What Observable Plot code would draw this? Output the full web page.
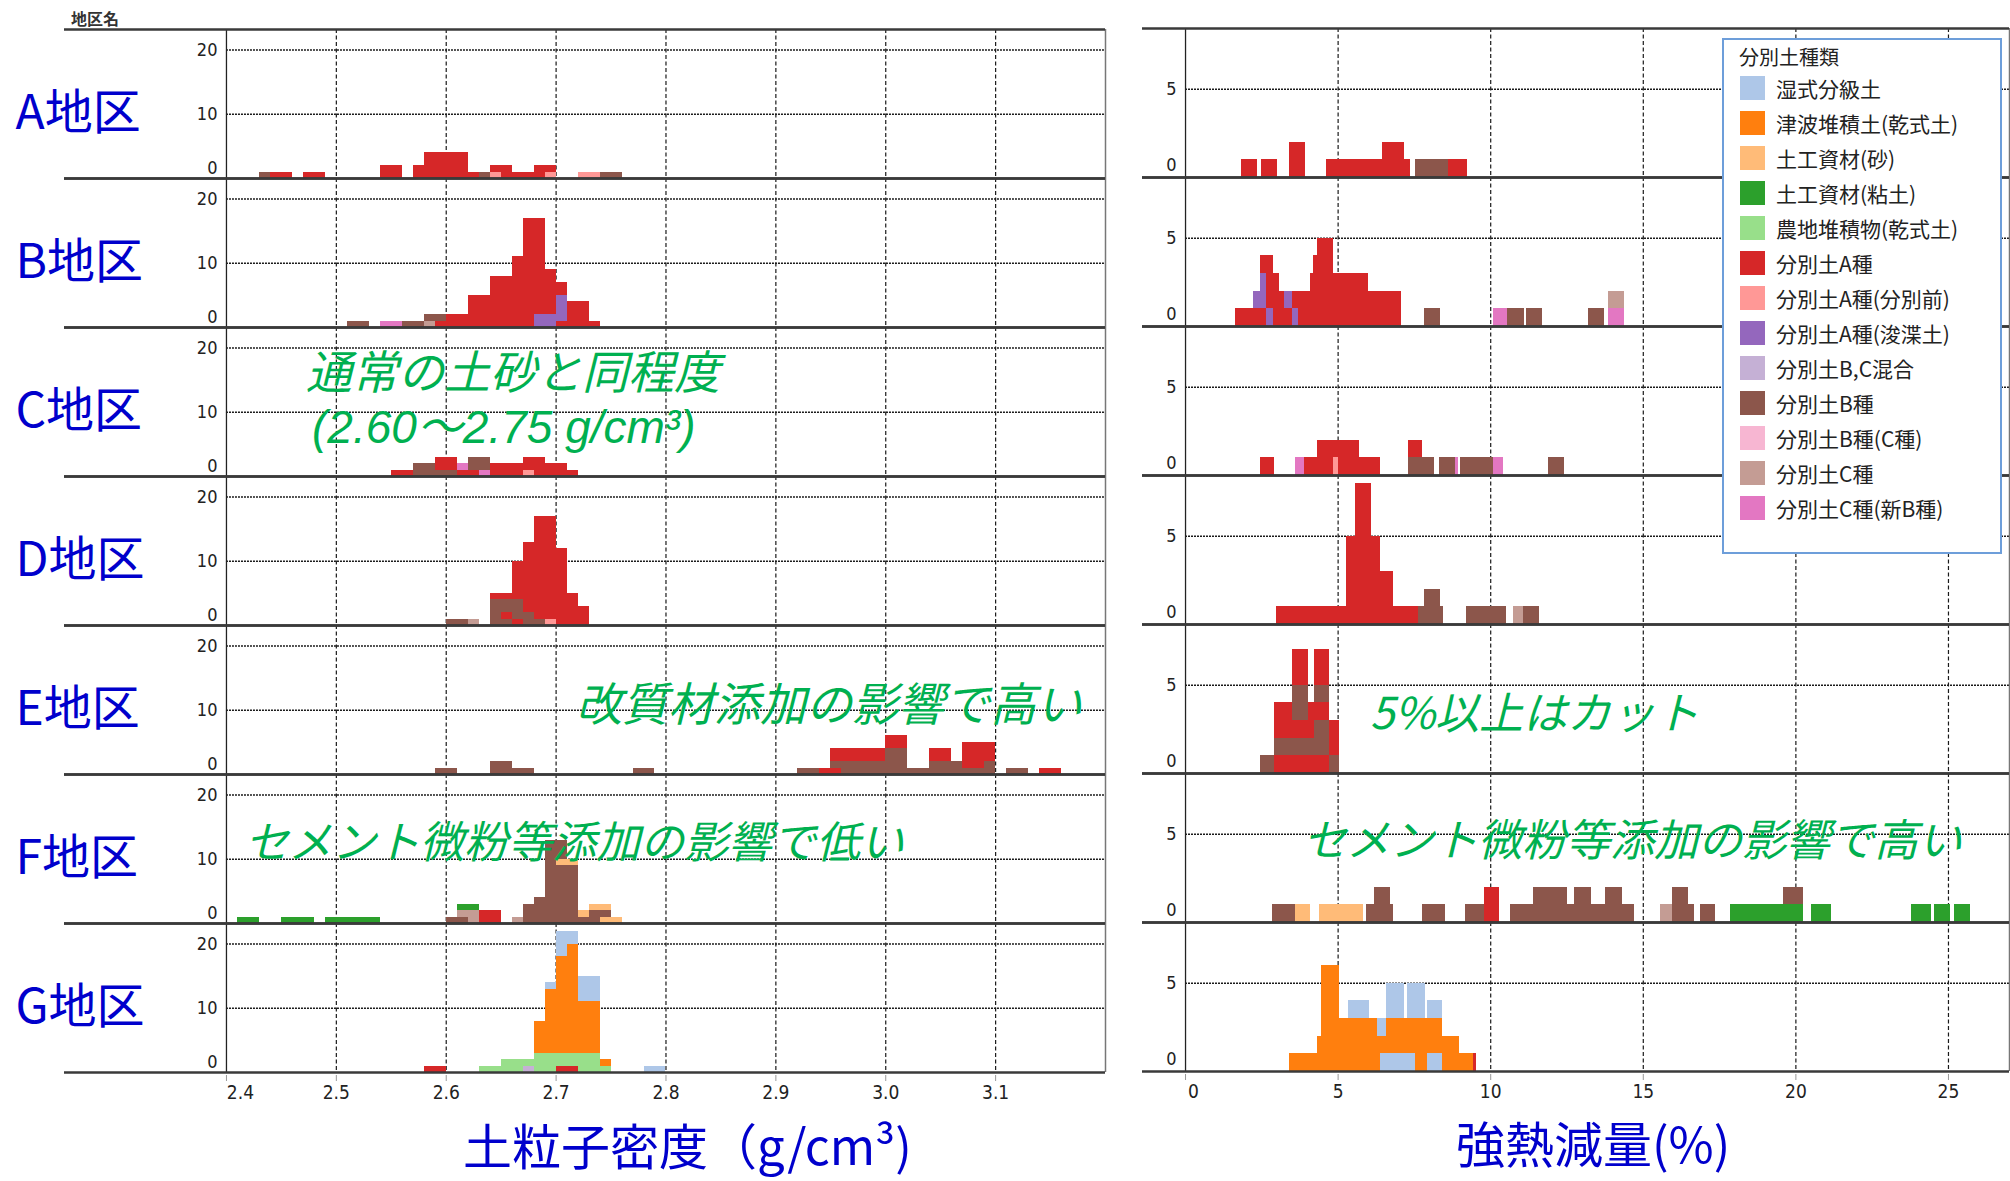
<!DOCTYPE html>
<html><head><meta charset="utf-8">
<script src="https://cdn.jsdelivr.net/npm/d3@7"></script>
<script src="https://cdn.jsdelivr.net/npm/@observablehq/plot@0.6"></script>
<style>
body{margin:0;background:#fff;width:2010px;height:1181px;position:relative;overflow:hidden;font-family:"Noto Sans CJK JP",sans-serif;}
.abs{position:absolute;}
.note{position:absolute;color:#00b050;font-style:italic;white-space:nowrap;line-height:1;font-family:"Noto Sans CJK JP",sans-serif;}
.atitle{position:absolute;color:#0000cc;white-space:nowrap;line-height:1;font-size:49px;font-family:"Noto Sans CJK JP",sans-serif;}
#legend{position:absolute;left:1722px;top:38px;width:280px;height:516px;border:2px solid #6d9eda;background:#fff;box-sizing:border-box;}
#legend .ttl{position:absolute;left:15px;top:6px;font-size:20px;line-height:22px;color:#222;white-space:nowrap;}
#legend .sw{position:absolute;left:16px;width:25px;height:24px;}
#legend .lb{position:absolute;left:52px;font-size:21px;line-height:24px;color:#222;white-space:nowrap;}
</style></head>
<body>
<div class="abs" style="left:71px;top:6px;font-size:16px;font-weight:bold;color:#333;">地区名</div>
<div id="left" class="abs" style="left:0;top:0"></div>
<div id="right" class="abs" style="left:1110px;top:0"></div>
<div id="legend"></div>
<div class="note" style="left:306px;top:346px;font-size:46px;">通常の土砂と同程度</div>
<div class="note" style="left:312px;top:404px;font-size:46px;font-family:'Liberation Sans','Noto Sans CJK JP',sans-serif;">(2.60～2.75 g/cm³)</div>
<div class="note" style="left:576px;top:678px;font-size:46px;">改質材添加の影響で高い</div>
<div class="note" style="left:245px;top:817px;font-size:44px;">セメント微粉等添加の影響で低い</div>
<div class="note" style="left:1370px;top:688px;font-size:44px;">5%以上はカット</div>
<div class="note" style="left:1303px;top:815px;font-size:44px;">セメント微粉等添加の影響で高い</div>
<div class="atitle" style="left:463px;top:1119px;">土粒子密度（g/cm³)</div>
<div class="atitle" style="left:1456px;top:1117px;">強熱減量(%)</div>
<script>
// ---------- categories ----------
const districts = ["A","B","C","D","E","F","G"];
const categoryNames = ["湿式分級土","津波堆積土(乾式土)","土工資材(砂)","土工資材(粘土)","農地堆積物(乾式土)","分別土A種","分別土A種(分別前)","分別土A種(浚渫土)","分別土B,C混合","分別土B種","分別土B種(C種)","分別土C種","分別土C種(新B種)"];
const categoryCodes = ["WET","TSU","SAND","CLAY","AGR","A","Apre","Adr","BC","B","BCc","C","CnB"];
const categoryColors = ["#aec7e8","#ff7f0e","#ffbb78","#2ca02c","#98df8a","#d62728","#ff9896","#9467bd","#c5b0d5","#8c564b","#f7b6d2","#c49c94","#e377c2"];

// ---------- 土粒子密度 histogram: [bin start ×0.01 g/cm3, category, count] (stacked bottom→top) ----------
const densA = [[243,"B",1],[244,"A",1],[245,"A",1],[247,"A",1],[248,"A",1],[254,"A",2],[255,"A",2],[257,"A",2],
  [258,"A",4],[259,"A",4],[260,"A",4],[261,"A",4],[262,"A",1],[263,"B",1],[264,"Apre",1],[264,"A",1],[265,"A",2],
  [266,"A",1],[267,"A",1],[268,"A",2],[269,"Apre",1],[269,"A",1],[272,"Apre",1],[273,"Apre",1],[274,"B",1],[275,"B",1]];
const densB = [[251,"B",1],[252,"B",1],[254,"CnB",1],[255,"CnB",1],[256,"B",1],[257,"B",1],[258,"C",1],[258,"B",1],
  [259,"A",1],[259,"B",1],[260,"A",2],[261,"A",2],[262,"A",5],[263,"A",5],[264,"A",8],[265,"A",8],[266,"A",11],
  [267,"A",17],[268,"Adr",2],[268,"A",15],[269,"Adr",2],[269,"A",7],[270,"A",1],[270,"Adr",4],[270,"A",2],
  [271,"A",4],[272,"A",4],[273,"A",1]];
const densC = [[255,"A",1],[256,"A",1],[257,"B",2],[258,"B",2],[259,"B",1],[259,"A",2],[260,"B",1],[260,"A",2],
  [261,"A",1],[261,"CnB",1],[262,"A",1],[262,"B",2],[263,"CnB",1],[263,"B",2],[264,"A",2],[265,"A",2],[266,"A",2],
  [267,"Apre",1],[267,"A",2],[268,"A",3],[269,"A",2],[270,"A",2],[271,"A",1]];
const densD = [[260,"B",1],[261,"B",1],[262,"C",1],[264,"B",4],[264,"A",1],[265,"B",1],[265,"A",1],[265,"B",2],[265,"A",1],
  [266,"A",1],[266,"B",3],[266,"A",6],[267,"B",2],[267,"A",11],[268,"B",1],[268,"A",16],[269,"Apre",1],[269,"A",16],
  [270,"A",12],[271,"A",5],[272,"A",3]];
const densE = [[259,"B",1],[260,"B",1],[264,"B",2],[265,"B",2],[266,"B",1],[267,"B",1],[277,"B",1],[278,"B",1],
  [292,"B",1],[293,"B",1],[294,"A",1],[295,"A",1],[295,"B",1],[295,"A",2],[296,"B",2],[296,"A",2],[297,"B",2],[297,"A",2],
  [298,"B",2],[298,"A",2],[299,"B",2],[299,"A",2],[300,"B",4],[300,"A",2],[301,"B",4],[301,"A",2],[302,"B",1],[303,"B",1],
  [304,"B",2],[304,"A",2],[305,"B",2],[305,"A",2],[306,"B",2],[307,"B",1],[307,"A",4],[308,"B",1],[308,"A",4],
  [309,"B",2],[309,"A",3],[311,"B",1],[312,"B",1],[314,"A",1],[315,"A",1]];
const densF = [[241,"CLAY",1],[242,"CLAY",1],[245,"CLAY",1],[246,"CLAY",1],[247,"CLAY",1],[249,"CLAY",1],[250,"CLAY",1],
  [251,"CLAY",1],[252,"CLAY",1],[253,"CLAY",1],[260,"B",1],[261,"B",1],[261,"C",1],[261,"CLAY",1],[262,"C",2],[262,"CLAY",1],
  [263,"A",2],[264,"A",2],[266,"C",1],[267,"B",3],[268,"B",4],[269,"B",13],[270,"B",9],[270,"SAND",1],[270,"B",3],
  [271,"B",9],[271,"SAND",1],[272,"B",1],[272,"SAND",1],[273,"B",2],[273,"SAND",1],[274,"SAND",1],[274,"B",1],[274,"SAND",1],
  [275,"SAND",1]];
const densG = [[258,"A",1],[259,"A",1],[263,"AGR",1],[264,"AGR",1],[265,"AGR",2],[266,"AGR",2],[267,"BC",1],[267,"AGR",1],
  [268,"AGR",3],[268,"TSU",5],[269,"AGR",3],[269,"TSU",10],[269,"WET",1],[270,"A",1],[270,"AGR",2],[270,"TSU",15],[270,"WET",4],
  [271,"A",1],[271,"AGR",2],[271,"TSU",17],[271,"WET",2],[272,"AGR",3],[272,"TSU",8],[272,"WET",4],
  [273,"AGR",3],[273,"TSU",8],[273,"WET",4],[274,"AGR",1],[274,"TSU",1],[278,"WET",1],[279,"WET",1]];
const densTicks = [2.4,2.5,2.6,2.7,2.8,2.9,3.0,3.1];
const densGridY = [10,20];

// ---------- 強熱減量 histogram: [from %, to %, category, count] (stacked bottom→top) ----------
const loiA = [[1.85,2.37,"A",1],[2.50,3.02,"A",1],[3.42,3.94,"A",2],[4.61,6.46,"A",1],[6.46,7.19,"A",2],[7.19,7.37,"A",1],
  [7.54,8.63,"B",1],[8.63,9.24,"A",1]];
const loiB = [[1.65,2.24,"A",1],[2.24,2.45,"A",1],[2.24,2.45,"Adr",1],[2.45,2.64,"A",1],[2.45,2.64,"Adr",2],[2.45,2.64,"A",1],
  [2.64,2.88,"Adr",1],[2.64,2.88,"A",3],[2.88,3.08,"A",3],[3.08,3.24,"A",2],[3.24,3.5,"A",1],[3.24,3.5,"Adr",1],
  [3.5,3.7,"Adr",1],[3.5,3.7,"A",1],[3.7,4.1,"A",2],[4.1,4.2,"A",3],[4.2,4.32,"A",4],[4.32,4.84,"A",5],[4.84,6.0,"A",3],
  [6.0,7.08,"A",2],[7.84,8.36,"B",1],[10.09,10.56,"CnB",1],[10.56,11.1,"B",1],[11.17,11.69,"B",1],[13.22,13.74,"B",1],
  [13.85,14.37,"CnB",1],[13.85,14.37,"C",1]];
const loiC = [[2.45,2.93,"A",1],[3.61,3.91,"CnB",1],[3.91,4.32,"A",1],[4.32,4.86,"A",2],[4.86,5.02,"Apre",1],[4.86,5.02,"A",1],
  [5.02,5.71,"A",2],[5.71,6.40,"A",1],[7.29,7.78,"B",1],[7.29,7.78,"A",1],[7.78,8.16,"B",1],[8.32,8.86,"B",1],[8.86,8.93,"CnB",1],
  [9.0,10.1,"B",1],[10.1,10.41,"CnB",1],[11.89,12.43,"B",1]];
const loiD = [[2.99,5.27,"A",1],[5.27,5.56,"A",5],[5.56,6.10,"A",8],[6.10,6.40,"A",5],[6.40,6.80,"A",3],[6.80,7.64,"A",1],
  [7.64,7.84,"B",1],[7.84,8.36,"B",2],[8.36,8.46,"B",1],[9.21,10.52,"B",1],[10.76,11.06,"C",1],[11.06,11.59,"B",1]];
const loiE = [[2.45,2.93,"B",1],[2.93,3.52,"A",1],[2.93,3.52,"B",1],[2.93,3.52,"A",2],
  [3.52,4.03,"A",1],[3.52,4.03,"B",1],[3.52,4.03,"A",1],[3.52,4.03,"B",2],[3.52,4.03,"A",2],
  [4.03,4.24,"A",1],[4.03,4.24,"B",1],[4.03,4.24,"A",2],
  [4.24,4.71,"A",1],[4.24,4.71,"B",2],[4.24,4.71,"A",1],[4.24,4.71,"B",1],[4.24,4.71,"A",2],
  [4.71,5.05,"B",1],[4.71,5.05,"A",2]];
const loiF = [[2.85,3.60,"B",1],[3.60,4.11,"SAND",1],[4.39,5.83,"SAND",1],[5.94,6.18,"B",1],[6.18,6.71,"B",2],[6.71,6.82,"B",1],
  [7.77,8.51,"B",1],[9.18,9.81,"B",1],[9.81,10.29,"A",2],[10.64,11.41,"B",1],[11.41,12.52,"B",2],[12.52,12.76,"B",1],
  [12.76,13.29,"B",2],[13.29,13.77,"B",1],[13.77,14.32,"B",2],[14.32,14.72,"B",1],[15.58,15.95,"C",1],[15.95,16.47,"B",2],
  [16.47,16.67,"B",1],[16.86,17.38,"B",1],[17.86,19.02,"CLAY",1],[19.02,19.61,"CLAY",1],[19.61,20.25,"CLAY",1],[19.61,20.25,"B",1],
  [20.52,21.16,"CLAY",1],[23.8,24.44,"CLAY",1],[24.55,25.08,"CLAY",1],[25.19,25.72,"CLAY",1]];
const loiG = [[3.41,4.31,"TSU",1],[4.31,4.47,"TSU",2],[4.47,5.03,"TSU",6],[5.03,5.33,"TSU",3],[5.33,6.02,"TSU",3],[5.33,6.02,"WET",1],
  [6.02,6.28,"TSU",3],[6.28,6.40,"TSU",2],[6.28,6.40,"WET",1],[6.40,6.58,"WET",1],[6.40,6.58,"TSU",1],[6.40,6.58,"WET",1],
  [6.58,6.96,"WET",1],[6.58,6.96,"TSU",2],[6.58,6.96,"WET",2],[6.96,7.19,"WET",1],[6.96,7.19,"TSU",2],[6.96,7.19,"WET",2],
  [7.19,7.28,"WET",1],[7.19,7.28,"TSU",2],[7.28,7.53,"WET",1],[7.28,7.53,"TSU",2],[7.28,7.53,"WET",2],
  [7.53,7.85,"TSU",3],[7.53,7.85,"WET",2],[7.85,7.94,"TSU",3],[7.94,8.42,"WET",1],[7.94,8.42,"TSU",2],[7.94,8.42,"WET",1],
  [8.42,8.98,"TSU",2],[8.98,9.45,"TSU",1],[9.45,9.55,"A",1]];
const loiTicks = [0,5,10,15,20,25];
const loiGridY = [5];

// ---------- build tables ----------
const densByDistrict = {A: densA, B: densB, C: densC, D: densD, E: densE, F: densF, G: densG};
const loiByDistrict = {A: loiA, B: loiB, C: loiC, D: loiD, E: loiE, F: loiF, G: loiG};
const densRows = districts.flatMap(d => densByDistrict[d].map(([b, cat, n]) => ({district: d, b, cat, n})));
const loiRows = districts.flatMap(d => loiByDistrict[d].map(([x1, x2, cat, n]) => ({district: d, x1, x2, cat, n})));
const lastDistrict = districts[districts.length - 1];

const tickFont = "'Liberation Sans Narrow','DejaVu Sans Condensed','Liberation Sans',sans-serif";
const gridStroke = "#1a1a1a";

// x ticks and tick labels under the last row (the first label sits right of its tick, as in the original)
function xAxisMarks(ticks, fmt, firstDx) {
  const rows = ticks.map((t, i) => ({t, district: lastDistrict, first: i === 0}));
  return [
    Plot.ruleX(rows, {x: "t", y1: 0, y2: 0, fy: "district", insetTop: 3, insetBottom: -9, stroke: "#999"}),
    Plot.text(rows.filter(d => d.first), {x: "t", y: 0, fy: "district", text: d => fmt(d.t), dx: firstDx, dy: 13, lineAnchor: "top", fontSize: 19}),
    Plot.text(rows.filter(d => !d.first), {x: "t", y: 0, fy: "district", text: d => fmt(d.t), dy: 13, lineAnchor: "top", fontSize: 19})
  ];
}

const DENS_X = [2.2526, 3.2], DENS_Y = [0, 23.2];
const leftPlot = Plot.plot({
  width: 1110, height: 1114,
  marginTop: 27, marginBottom: 40, marginLeft: 64, marginRight: 5,
  style: {fontFamily: tickFont, fontSize: "19px", color: "#222", background: "transparent", overflow: "visible"},
  x: {type: "linear", domain: DENS_X, axis: null},
  y: {type: "linear", domain: DENS_Y, axis: null},
  fy: {domain: districts, padding: 0, axis: null},
  color: {domain: categoryCodes, range: categoryColors},
  marks: [
    Plot.ruleX(densTicks.slice(1), {stroke: gridStroke, strokeDasharray: "4,2.5", strokeWidth: 1.2}),
    Plot.ruleY(densGridY, {x1: densTicks[0], x2: DENS_X[1], stroke: gridStroke, strokeDasharray: "2,1", strokeWidth: 1.5}),
    Plot.rectY(densRows, {x1: d => d.b / 100, x2: d => (d.b + 1) / 100, y: "n", fill: "cat", fy: "district", shapeRendering: "crispEdges"}),
    Plot.ruleX([densTicks[0]], {stroke: "#222", strokeWidth: 1.3}),
    Plot.ruleX([DENS_X[1]], {stroke: "#777", strokeWidth: 1.5}),
    Plot.ruleY([DENS_Y[1]], {stroke: "#3a3a3a", strokeWidth: 2.5}),
    Plot.ruleY([0], {stroke: "#3a3a3a", strokeWidth: 2.5}),
    Plot.text(densGridY, {x: densTicks[0], y: d => d, dx: -9, textAnchor: "end", fontSize: 18}),
    Plot.text([0], {x: densTicks[0], y: d => d, dx: -9, dy: -10, textAnchor: "end", fontSize: 18}),
    ...xAxisMarks(densTicks, d3.format(".1f"), 14),
    Plot.text(districts, {fy: d => d, text: d => d + "地区", frameAnchor: "left", dx: -49, dy: 10, textAnchor: "start",
      fontSize: 48, fill: "#0000cc", fontFamily: "Noto Sans CJK JP"})
  ]
});
document.getElementById("left").appendChild(leftPlot);

const LOI_X = [-1.41, 27], LOI_Y = [0, 8.44];
const rightPlot = Plot.plot({
  width: 900, height: 1114,
  marginTop: 27, marginBottom: 43, marginLeft: 32, marginRight: 1,
  style: {fontFamily: tickFont, fontSize: "19px", color: "#222", background: "transparent", overflow: "visible"},
  x: {type: "linear", domain: LOI_X, axis: null},
  y: {type: "linear", domain: LOI_Y, axis: null},
  fy: {domain: districts, padding: 0, axis: null},
  color: {domain: categoryCodes, range: categoryColors},
  marks: [
    Plot.ruleX(loiTicks.slice(1), {stroke: gridStroke, strokeDasharray: "4,2.5", strokeWidth: 1.2}),
    Plot.ruleY(loiGridY, {x1: loiTicks[0], x2: LOI_X[1], stroke: gridStroke, strokeDasharray: "2,1", strokeWidth: 1.5}),
    Plot.rectY(loiRows, {x1: "x1", x2: "x2", y: "n", fill: "cat", fy: "district", shapeRendering: "crispEdges"}),
    Plot.ruleX([loiTicks[0]], {stroke: "#222", strokeWidth: 1.3}),
    Plot.ruleX([LOI_X[1]], {stroke: "#777", strokeWidth: 1.5}),
    Plot.ruleY([LOI_Y[1]], {stroke: "#3a3a3a", strokeWidth: 2.5}),
    Plot.ruleY([0], {stroke: "#3a3a3a", strokeWidth: 2.5}),
    Plot.text(loiGridY, {x: loiTicks[0], y: d => d, dx: -9, textAnchor: "end", fontSize: 18}),
    Plot.text([0], {x: loiTicks[0], y: d => d, dx: -9, dy: -12, textAnchor: "end", fontSize: 18}),
    ...xAxisMarks(loiTicks, d => String(d), 8)
  ]
});
document.getElementById("right").appendChild(rightPlot);

// ---------- legend ----------
const legend = document.getElementById("legend");
const ttl = document.createElement("div");
ttl.className = "ttl"; ttl.textContent = "分別土種類";
legend.appendChild(ttl);
categoryNames.forEach((name, i) => {
  const sw = document.createElement("div");
  sw.className = "sw"; sw.style.top = (36 + 35 * i) + "px"; sw.style.background = categoryColors[i];
  const lb = document.createElement("div");
  lb.className = "lb"; lb.style.top = (36 + 35 * i) + "px"; lb.textContent = name;
  legend.appendChild(sw); legend.appendChild(lb);
});
</script>
</body></html>
